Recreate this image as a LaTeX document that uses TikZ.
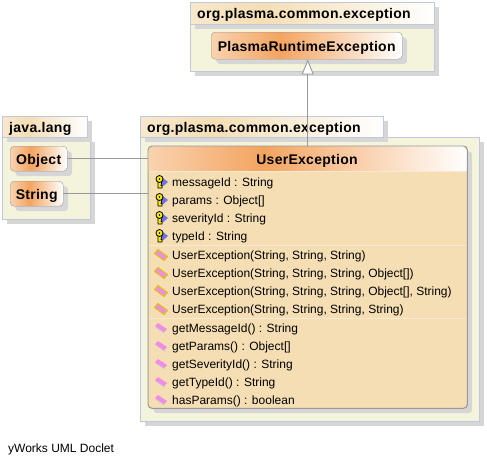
\documentclass[tikz,border=0pt]{standalone}
\usepackage{fontspec}
\setmainfont[BoldFeatures={LetterSpace=2}]{Liberation Sans}
\usetikzlibrary{arrows.meta,shadows}
\definecolor{pkgborder}{HTML}{C0C8E0}
\definecolor{pkgbody}{HTML}{F4F4DC}
\definecolor{wheatfill}{HTML}{F5DEB3}
\definecolor{headorange}{HTML}{F4A460}
\definecolor{headpale}{HTML}{F9D3B0}
\definecolor{tabpale}{HTML}{F8E8CC}
\definecolor{edgegray}{HTML}{999999}
\definecolor{sepcolor}{HTML}{F8EAD2}
\definecolor{shadowgray}{HTML}{D6D6D6}
\definecolor{iconpink}{HTML}{F08CE8}
\definecolor{iconblue}{HTML}{7070E8}
\definecolor{iconyellow}{HTML}{F8EC00}
\definecolor{iconolive}{HTML}{D8C800}
\pgfdeclarehorizontalshading{classshade}{100bp}{color(0bp)=(headpale); color(25bp)=(headpale); color(43bp)=(headorange); color(75bp)=(white); color(100bp)=(white)}
\pgfdeclarehorizontalshading{tabshade}{100bp}{color(0bp)=(tabpale); color(25bp)=(tabpale); color(40bp)=(wheatfill); color(75bp)=(white); color(100bp)=(white)}
\begin{document}
\begin{tikzpicture}[
    x=1pt, y=-1pt,
    >={Triangle[length=15pt, width=12pt, fill=white]},
    softshadow/.style={general shadow={fill=shadowgray, shadow xshift=5pt, shadow yshift=-5pt}},
    titlefont/.style={font=\fontsize{14}{16}\selectfont\bfseries, text height=14pt, text depth=3pt},
    pkgbox/.style={draw=pkgborder, fill=pkgbody, anchor=north west, inner sep=0pt, softshadow},
    pkgtab/.style={draw=pkgborder, shade, shading=tabshade, anchor=north west, inner xsep=7pt, inner ysep=0pt, align=left, softshadow, titlefont},
    roundbox/.style={draw=edgegray, rounded corners=4pt, anchor=north west, inner sep=0pt, softshadow, titlefont},
    classbox/.style={roundbox, shade, shading=classshade},
    member/.style={anchor=west, inner sep=0pt, font=\fontsize{12}{14}\selectfont, text height=10.5pt, text depth=2.5pt},
    edgeline/.style={draw=edgegray, line width=0.9pt},
    keyicon/.pic={
        \fill[iconblue] (0,-5.5) -- (7,0) -- (0,6) -- cycle;
        \draw[fill=iconyellow, line width=0.7pt] (-3,-1) -- (-3,6) -- (1,6) -- (1,3.5) -- (0,3.5) -- (1,-1) -- cycle;
        \draw[fill=iconyellow, line width=0.8pt] (-1.5,-3) circle (3.5pt);
        \fill (-1.5,-3) circle (0.9pt);
    },
    methicon/.pic={
        \fill[gray!40] (-6,-1) -- (3,5.5) -- (4,5) -- (-5,-1.5) -- cycle;
        \fill[iconpink] (-6,-2) -- (-3,-5) -- (6,1) -- (3,4) -- cycle;
    },
    ctoricon/.pic={
        \draw[draw=iconolive, fill=iconpink, line width=1pt] (-6.5,-1.5) -- (-3,-5.5) -- (6.5,1.5) -- (3,5.5) -- cycle;
    }
]
    \useasboundingbox (0,0) rectangle (487,464);

    % packages
    \node[pkgbox, minimum width=244pt, minimum height=47pt] (plasmaBody) at (190,24) {};
    \node[pkgtab, minimum height=22pt, text width=230pt] (plasmaTab) at (190,2) {org.plasma.common.exception};
    \node[pkgbox, minimum width=339pt, minimum height=284pt] (userBody) at (140,137) {};
    \node[pkgtab, minimum height=21pt, text width=229pt] (userTab) at (140,116) {org.plasma.common.exception};
    \node[pkgbox, minimum width=88pt, minimum height=82pt] (javaBody) at (2,137) {};
    \node[pkgtab, minimum height=21pt, text width=71pt] (javaTab) at (2,116) {java.lang};

    % small classes
    \node[classbox, minimum width=191pt, minimum height=27pt] (Plasma) at (211,32) {PlasmaRuntimeException};
    \node[classbox, minimum width=57pt, minimum height=25pt] (Object) at (10,146) {Object};
    \node[classbox, minimum width=53pt, minimum height=25pt] (String) at (10,181) {String};

    % big class
    \node[roundbox, fill=wheatfill, minimum width=319pt, minimum height=262pt] (User) at (148,146) {};
    \shade[shading=classshade] (148,171) -- (148,150) to[out=-90, in=180, looseness=0.6] (152,146) -- (463,146) to[out=0, in=-90, looseness=0.6] (467,150) -- (467,171) -- cycle;
    \node[titlefont] (UserTitle) at (307,159) {UserException};
    \draw[draw=edgegray, rounded corners=4pt, line width=0.9pt] (User.north west) rectangle (User.south east);

    % separators
    \draw[sepcolor, line width=1.2pt] (149,171.5) -- (466,171.5);
    \draw[sepcolor, line width=1pt] (149,245) -- (466,245);
    \draw[sepcolor, line width=1pt] (149,318) -- (466,318);

    % members
    \foreach \y/\txt in {182/{messageId : String}, 200/{params : Object[]}, 218/{severityId : String}, 236/{typeId : String}} {
        \pic at (161,\y) {keyicon};
        \node[member] (attr\y) at (172,\y) {\txt};
    }
    \foreach \y/\txt in {255/{UserException(String, String, String)}, 273/{UserException(String, String, String, Object[])}, 291/{UserException(String, String, String, Object[], String)}, 309/{UserException(String, String, String, String)}} {
        \pic at (161,\y) {ctoricon};
        \node[member] (ctor\y) at (172,\y) {\txt};
    }
    \foreach \y/\txt in {328/{getMessageId() : String}, 346/{getParams() : Object[]}, 364/{getSeverityId() : String}, 382/{getTypeId() : String}, 400/{hasParams() : boolean}} {
        \pic at (161,\y) {methicon};
        \node[member] (meth\y) at (172,\y) {\txt};
    }

    % connectors
    \draw[edgeline] (Object.east) -- (Object.east -| User.west);
    \draw[edgeline] (String.east) -- (String.east -| User.west);
    \draw[edgeline, ->] (User.north) -- (User.north |- Plasma.south);

    \node[member] (doclet) at (8,448) {yWorks UML Doclet};
\end{tikzpicture}
\end{document}
